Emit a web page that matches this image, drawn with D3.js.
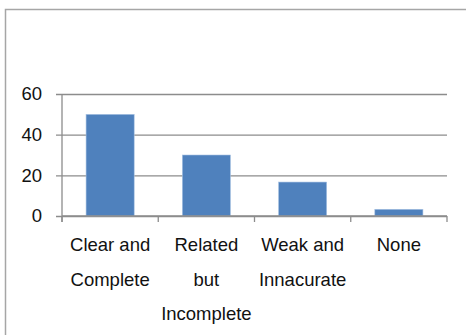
<!DOCTYPE html>
<html>
<head>
<meta charset="utf-8">
<script src="https://cdn.jsdelivr.net/npm/d3@7"></script>
<style>
  html, body { margin: 0; padding: 0; background: #fff; }
  svg { display: block; }
  text { font-family: "Liberation Sans", Arial, sans-serif; fill: #111; }
</style>
</head>
<body>
<svg id="chart" width="466" height="335"></svg>
<script>
// Share of responses in each quality category (percent)
const categories = ["Clear and Complete", "Related but Incomplete", "Weak and Innacurate", "None"];
const labelLines = [["Clear and", "Complete"], ["Related", "but", "Incomplete"], ["Weak and", "Innacurate"], ["None"]];
const values = [50, 30, 16.7, 3.3];
const yTicks = [0, 20, 40, 60];

const svg = d3.select("#chart");
const plotLeft = 62, plotRight = 447, plotTop = 94, plotBottom = 216;

// outer chart frame
svg.append("rect")
  .attr("x", 5.5).attr("y", 9.5)
  .attr("width", 500).attr("height", 400)
  .attr("fill", "none")
  .attr("stroke", "#a6a6a6")
  .attr("stroke-width", 1.5);

const x = d3.scaleBand()
  .domain(categories)
  .range([plotLeft, plotRight])
  .paddingInner(0.5)
  .paddingOuter(0.25);

const y = d3.scaleLinear().domain([0, 60]).range([plotBottom, plotTop]);

// horizontal gridlines with ticks to the left of the value axis
const yAxis = svg.append("g")
  .attr("transform", `translate(${plotLeft},0)`)
  .call(d3.axisLeft(y).tickValues(yTicks).tickSize(6).tickPadding(14).tickFormat(d3.format("d")));
yAxis.select(".domain").remove();
yAxis.selectAll(".tick line")
  .attr("x1", -6)
  .attr("x2", plotRight - plotLeft)
  .attr("stroke", "#8c8c8c")
  .attr("stroke-width", 1.3);
yAxis.selectAll(".tick text")
  .attr("font-size", 18.5)
  .attr("font-family", "Liberation Sans, Arial, sans-serif")
  .attr("fill", "#111");

// value axis line
svg.append("line")
  .attr("x1", plotLeft).attr("x2", plotLeft)
  .attr("y1", plotTop).attr("y2", plotBottom + 6)
  .attr("stroke", "#8c8c8c").attr("stroke-width", 1.3);

// bars
svg.append("g").selectAll("rect")
  .data(values)
  .join("rect")
  .attr("x", (d, i) => x(categories[i]))
  .attr("y", d => y(d))
  .attr("width", x.bandwidth())
  .attr("height", d => y(0) - y(d))
  .attr("fill", "#4f81bd")
  .attr("stroke", "#a9c3e3")
  .attr("stroke-width", 0.6);

// category axis with boundary ticks
svg.append("line")
  .attr("x1", plotLeft).attr("x2", plotRight)
  .attr("y1", plotBottom).attr("y2", plotBottom)
  .attr("stroke", "#8c8c8c").attr("stroke-width", 1.3);
const step = x.step();
const bounds = d3.range(categories.length + 1).map(i => plotLeft + i * step);
svg.append("g").selectAll("line")
  .data(bounds)
  .join("line")
  .attr("x1", d => d).attr("x2", d => d)
  .attr("y1", plotBottom).attr("y2", plotBottom + 6)
  .attr("stroke", "#8c8c8c").attr("stroke-width", 1.3);

// multi-line category labels
const labels = svg.append("g").selectAll("text")
  .data(categories)
  .join("text")
  .attr("text-anchor", "middle")
  .attr("font-size", 18.5)
  .attr("x", d => x(d) + x.bandwidth() / 2)
  .attr("y", 251);
labels.each(function (d, i) {
  const t = d3.select(this);
  labelLines[i].forEach((line, j) => {
    t.append("tspan")
      .attr("x", x(d) + x.bandwidth() / 2)
      .attr("dy", j === 0 ? 0 : 34.5)
      .text(line);
  });
});
</script>
</body>
</html>
